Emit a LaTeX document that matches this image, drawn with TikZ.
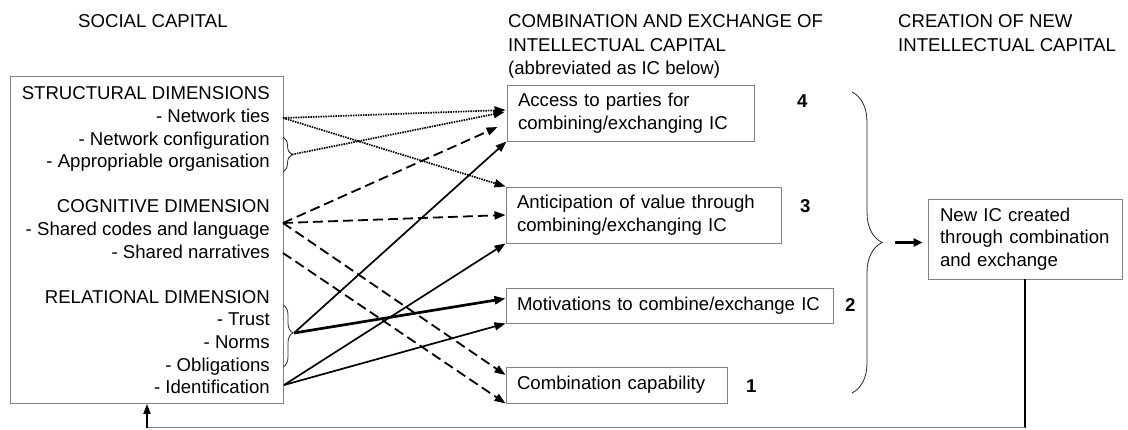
\documentclass[tikz,border=0pt]{standalone}
\usepackage{fontspec}
\setmainfont{Liberation Sans}
\usetikzlibrary{arrows.meta,decorations.pathreplacing,calc}

\definecolor{boxgray}{RGB}{128,128,128}

\tikzset{
  txt/.style={inner sep=0pt, font=\fontsize{18.6pt}{22.6pt}\selectfont},
  item/.style={txt, anchor=base east},
  head/.style={txt, anchor=base west},
  num/.style={inner sep=0pt, anchor=base west, font=\fontsize{18.6pt}{22.6pt}\selectfont\bfseries},
  icbox/.style={txt, draw=boxgray, line width=0.9pt, align=left, anchor=center},
  tip/.style={-{Triangle[length=11pt,width=8pt]}},
  dotarrow/.style={tip, line width=1.7pt, dash pattern=on 1.5pt off 1pt},
  dasharrow/.style={tip, line width=1.8pt, dash pattern=on 10pt off 5pt},
  solidarrow/.style={tip, line width=1.7pt},
  heavyarrow/.style={tip, line width=2.7pt},
  curly/.style={decorate, line width=0.8pt, draw=black!85},
}

\begin{document}
\begin{tikzpicture}[x=1pt,y=-1pt]
\useasboundingbox (0,0) rectangle (1128,430);

% column headings
\node[head] (hsoc) at (78,28) {SOCIAL CAPITAL};
\node[head] (hcomb1) at (508,28) {COMBINATION AND EXCHANGE OF};
\node[head] (hcomb2) at (508,51.5) {INTELLECTUAL CAPITAL};
\node[head] (hcomb3) at (508,75) {(abbreviated as IC below)};
\node[head] (hnew1) at (898,28) {CREATION OF NEW};
\node[head] (hnew2) at (898,51.5) {INTELLECTUAL CAPITAL};

% social capital box and its dimensions
\node[draw=boxgray, line width=0.9pt, minimum width=273pt, minimum height=327pt,
      inner sep=0pt, anchor=north west] (soc) at (10,76) {};
\node[item] (struct) at (270,100)   {STRUCTURAL DIMENSIONS};
\node[item] (ties)   at (270,122.6) {- Network ties};
\node[item] (config) at (270,145.2) {- Network configuration};
\node[item] (approp) at (270,167.8) {- Appropriable organisation};
\node[item] (cogn)   at (270,213)   {COGNITIVE DIMENSION};
\node[item] (codes)  at (270,235.6) {- Shared codes and language};
\node[item] (narr)   at (270,258.2) {- Shared narratives};
\node[item] (relat)  at (270,303.4) {RELATIONAL DIMENSION};
\node[item] (trust)  at (270,326)   {- Trust};
\node[item] (norms)  at (270,348.6) {- Norms};
\node[item] (oblig)  at (270,371.2) {- Obligations};
\node[item] (ident)  at (270,393.8) {- Identification};

% braces grouping items on the right edge of the box
\draw[curly, decoration={brace, amplitude=9pt}] (283,137) -- (283,172);
\coordinate (b1tip) at (292,154.5);
\draw[curly, decoration={brace, amplitude=10pt, aspect=0.45}] (283,305) -- (283,367);
\coordinate (b3tip) at (294,333);

% start points of the connectors
\coordinate (sTies)  at (283,118);
\coordinate (sCodes) at (283,223);
\coordinate (sNarr)  at (283,253);
\coordinate (sIdent) at (284,385);

% combination and exchange boxes
\node[icbox, text width=225pt, inner xsep=11pt, minimum height=56pt] (acc) at (630.5,113)
  {Access to parties for\\combining/exchanging IC};
\node[icbox, text width=253pt, inner xsep=11pt, minimum height=56pt] (antic) at (643.5,215)
  {Anticipation of value through\\combining/exchanging IC};
\node[icbox, text width=305pt, inner xsep=11pt, minimum height=35pt] (motiv) at (669.5,305.5)
  {Motivations to combine/exchange IC};
\node[icbox, text width=199pt, inner xsep=11pt, minimum height=36pt] (comb) at (616.5,385)
  {Combination capability};

\node[num] (n4) at (797,108) {4};
\node[num] (n3) at (800,213) {3};
\node[num] (n2) at (845,312) {2};
\node[num] (n1) at (746,392) {1};

% new intellectual capital
\node[icbox, text width=170pt, inner xsep=12pt, minimum height=80pt] (newic) at (1025,239)
  {New IC created\\through combination\\and exchange};

% big brace gathering the four boxes
\draw[curly, decoration={brace, amplitude=30pt}] (852,92) -- (852,393);
\coordinate (bigtip) at (882,242.5);
\draw[heavyarrow, -{Triangle[length=9pt,width=8pt]}] ($(bigtip)+(13,0)$) -- ($(bigtip -| newic.west)+(-5,0)$);

% structural links (dotted)
\draw[dotarrow] (sTies) -- ($(acc.west)+(-1,-3)$);
\draw[dotarrow] (sTies) -- (antic.north west);
\draw[dotarrow] (b1tip) -- ($(acc.west)+(-2,-1)$);

% cognitive links (dashed)
\draw[dasharrow] (sCodes) -- ($(acc.west)+(-9,14)$);
\draw[dasharrow] (sCodes) -- (antic.west);
\draw[dasharrow] (sCodes) -- ($(comb.west)+(0,-10)$);
\draw[dasharrow] (sNarr) -- (comb.south west);

% relational links (solid)
\draw[solidarrow] (b3tip) -- (acc.south west);
\draw[heavyarrow] (b3tip) -- ($(motiv.west)+(0,-7)$);
\draw[solidarrow] (sIdent) -- (antic.south west);
\draw[solidarrow] (sIdent) -- (motiv.south west);

% feedback loop back to social capital
\coordinate (fbL) at (147,428);
\draw[line width=2.2pt] (newic.south) -- (newic.south |- fbL);
\draw[boxgray, line width=1pt] (newic.south |- fbL) -- (fbL);
\draw[line width=1.7pt, -{Triangle[length=10pt,width=7pt]}] (fbL) -- (fbL |- soc.south);
\end{tikzpicture}
\end{document}
